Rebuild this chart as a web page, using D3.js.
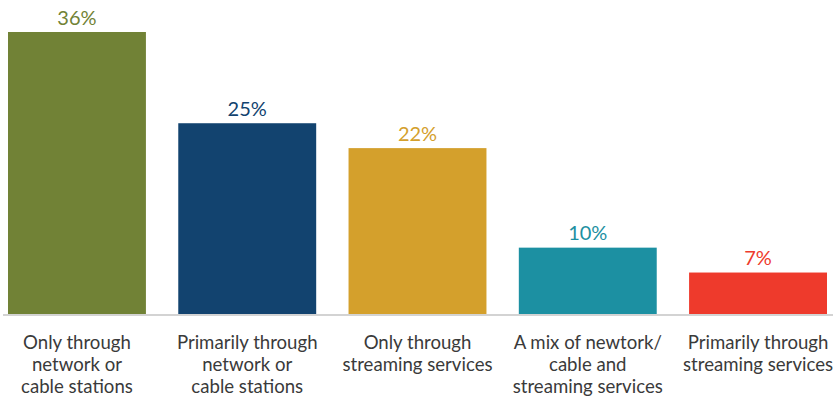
<!DOCTYPE html>
<html>
<head>
<meta charset="utf-8">
<script src="https://cdn.jsdelivr.net/npm/d3@7"></script>
<style>
  html, body { margin: 0; padding: 0; background: #ffffff; }
  svg { display: block; }
</style>
</head>
<body>
<svg id="chart" width="833" height="401"></svg>
<script>
// Share of viewers by how they watch, one bar per viewing mode
const categories = [
  "Only through\nnetwork or\ncable stations",
  "Primarily through\nnetwork or\ncable stations",
  "Only through\nstreaming services",
  "A mix of newtork/\ncable and\nstreaming services",
  "Primarily through\nstreaming services"
];
const values = [36, 25, 22, 10, 7];
const valueLabels = ["36%", "25%", "22%", "10%", "7%"];
const barColors = ["#718236", "#12436f", "#d4a02c", "#1c90a2", "#ee3a2c"];

const svg = d3.select("#chart");
const font = "Lato, 'Open Sans', sans-serif";

const x = d3.scaleBand()
  .domain(categories)
  .range([8, 827])
  .paddingInner(0.19)
  .paddingOuter(0);

// value axis does not start at zero
const y = d3.scaleLinear()
  .domain([2, 36])
  .range([314, 32]);

const data = categories.map((c, i) => ({ cat: c, value: values[i], label: valueLabels[i], color: barColors[i] }));

// bars
svg.append("g").selectAll("rect")
  .data(data)
  .join("rect")
  .attr("x", d => x(d.cat))
  .attr("y", d => y(d.value))
  .attr("width", x.bandwidth())
  .attr("height", d => y.range()[0] - y(d.value))
  .attr("fill", d => d.color);

// baseline
svg.append("line")
  .attr("x1", 3).attr("x2", 833)
  .attr("y1", 315).attr("y2", 315)
  .attr("stroke", "#d3d3d3")
  .attr("stroke-width", 2);

// value labels above bars
svg.append("g").selectAll("text")
  .data(data)
  .join("text")
  .attr("x", d => x(d.cat) + x.bandwidth() / 2)
  .attr("y", d => y(d.value) - 7.5)
  .attr("text-anchor", "middle")
  .attr("font-family", font)
  .attr("font-size", 20)
  .attr("fill", d => d.color)
  .text(d => d.label);

// category labels under the axis
const catLabels = svg.append("g").selectAll("text")
  .data(data)
  .join("text")
  .attr("text-anchor", "middle")
  .attr("font-family", font)
  .attr("font-size", 18.6)
  .attr("fill", "#3a3a3a");

catLabels.each(function (d) {
  const t = d3.select(this);
  d.cat.split("\n").forEach((line, i) => {
    t.append("tspan")
      .attr("x", x(d.cat) + x.bandwidth() / 2)
      .attr("y", 349 + i * 22)
      .text(line);
  });
});
</script>
</body>
</html>
